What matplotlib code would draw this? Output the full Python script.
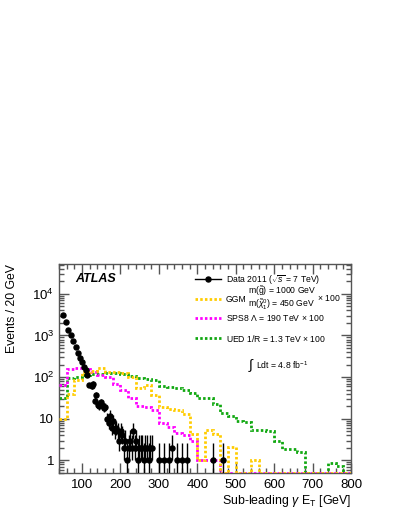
import numpy as np
import matplotlib
matplotlib.use("Agg")
import matplotlib.pyplot as plt
from matplotlib.ticker import FixedLocator, FixedFormatter, LogLocator, NullFormatter, MultipleLocator

plt.rcParams['font.family'] = ['Liberation Sans', 'DejaVu Sans']
plt.rcParams['mathtext.fontset'] = 'custom'
plt.rcParams['mathtext.rm'] = 'Liberation Sans'
plt.rcParams['mathtext.it'] = 'Liberation Sans:italic'
plt.rcParams['mathtext.bf'] = 'Liberation Sans:bold'

# ---------------- data ----------------
bin_edges = np.arange(40, 801, 20)

ggm = [10, 40, 85, 130, 140, 165, 130, 130, 125, 100, 55, 65, 38, 19, 17, 16, 13, 4.4, 1.0, 5.3,
       4.4, 0, 2.1, 0, 0, 1.0, 0, 0, 0, 0, 0, 0, 0, 0, 0, 0, 0, 0]
sps8 = [64, 160, 170, 160, 135, 110, 100, 68, 48, 31, 20, 19, 16, 8, 6.5, 4.5, 4, 3, 1.0, 1.0,
        1.0, 0, 0, 0, 0, 0, 0, 0, 0, 0, 0, 0, 0, 0, 0, 0, 0, 0]
ued = [31, 98, 100, 110, 120, 120, 125, 125, 120, 105, 95, 90, 85, 60, 58, 55, 50, 42, 32, 31,
       23, 14, 12, 9, 8.3, 5.5, 5.3, 5, 3, 1.9, 1.9, 1.6, 0, 0, 0, 0.85, 0.75, 0]

data_x = [51, 57, 64, 70, 77, 83, 89, 95, 101, 106, 110, 114, 119, 125, 129, 133, 137, 141, 145,
          149, 153, 157, 161, 165, 169, 173, 177, 181, 185, 189, 193, 197, 201, 205, 209, 213,
          217, 221, 225, 229, 233, 237, 241, 245, 249, 253, 257, 261, 265, 269, 273, 277,
          281, 301, 313, 325, 333, 348, 360, 373, 441, 467]
data_y = [3100, 2050, 1350, 1030, 750, 520, 390, 290, 230, 180, 145, 110, 65, 60, 70, 27, 38, 22,
          20, 25, 21, 18, 19, 10, 8, 12, 6, 9, 5, 6, 5, 3, 5, 4, 2, 3, 1,
          2, 3, 2, 5, 2, 3, 1, 2, 2, 2, 1, 2, 2, 1, 2,
          2, 1, 1, 1, 2, 1, 1, 1, 1, 1]

legend_labels = ["Data 2011 ($\\sqrt{s}$ = 7 TeV)", "GGM", "SPS8 $\\Lambda$ = 190 TeV $\\times$ 100",
                 "UED 1/R = 1.3 TeV $\\times$ 100"]

# ---------------- figure ----------------
W, H = 399, 516
fig = plt.figure(figsize=(W / 100, H / 100), dpi=100)
ax = fig.add_axes([59 / W, 1 - 473 / H, (351 - 59) / W, (473 - 264) / H])

ymin, ymax = 0.5, 5.2e4
c_ggm = '#FFCC00'
c_sps = '#FF00FF'
c_ued = '#11A811'
dots = (0, (0.9, 0.8))


def draw_hist(vals, color, z):
    v = np.array(vals, dtype=float)
    v = np.where(v > 0, v, ymin)
    ax.stairs(v, bin_edges, baseline=None, color=color, lw=2.0, ls=dots, zorder=z)


draw_hist(ued, c_ued, 2)
draw_hist(sps8, c_sps, 3)
draw_hist(ggm, c_ggm, 4)

dy = np.array(data_y, dtype=float)
up = 0.5 + np.sqrt(dy + 0.25)
dn = -0.5 + np.sqrt(dy + 0.25)
ax.errorbar(data_x, dy, yerr=[dn, up], fmt='o', color='black', ms=3.6, lw=1.0, capsize=0, zorder=6)

ax.set_yscale('log')
ax.set_xlim(40, 800)
ax.set_ylim(ymin, ymax)

ax.xaxis.set_major_locator(FixedLocator([100, 200, 300, 400, 500, 600, 700, 800]))
ax.xaxis.set_minor_locator(MultipleLocator(20))
ax.yaxis.set_major_locator(FixedLocator([1, 10, 100, 1000, 10000]))
ax.yaxis.set_major_formatter(FixedFormatter(['1', '10', '$10^{2}$', '$10^{3}$', '$10^{4}$']))
ax.yaxis.set_minor_locator(LogLocator(base=10, subs=np.arange(2, 10), numticks=20))
ax.yaxis.set_minor_formatter(NullFormatter())
ax.tick_params(which='both', direction='in', top=True, right=True, colors='#555555',
               labelcolor='black', labelsize=9.5, width=1.0)
ax.tick_params(which='major', length=7)
ax.tick_params(which='minor', length=3.5)
ax.tick_params(axis='x', pad=4)
for s in ax.spines.values():
    s.set_color('#555555')
    s.set_linewidth(1.0)

ax.set_xlabel('Sub-leading $\\gamma$ E$_{\\mathrm{T}}$ [GeV]', fontsize=8.9, ha='right', x=1.0)
ax.set_ylabel('Events / 20 GeV', fontsize=8.8, ha='right', y=1.0)
ax.xaxis.set_label_coords(1.0, -0.095)
ax.yaxis.set_label_coords(-0.14, 1.0)

# ATLAS label
fig.text(75 / W, 1 - 279 / H, 'ATLAS', fontsize=9, fontweight='bold', style='italic', va='center')

# legend (manual, ROOT-like)
def fx(p):
    return p / W


def fy(p):
    return 1 - p / H


lx0, lx1 = 195, 221
tx = 226
fs = 6.2
# data entry
fig.lines.append(plt.Line2D([fx(lx0), fx(lx1)], [fy(279.3)] * 2, color='black', lw=1.0, transform=fig.transFigure))
fig.lines.append(plt.Line2D([fx(208)], [fy(279.3)], color='black', marker='o', ms=3.6, transform=fig.transFigure))
fig.text(fx(tx), fy(279.3), legend_labels[0], fontsize=fs, va='center')
# GGM
fig.lines.append(plt.Line2D([fx(lx0), fx(lx1)], [fy(299.3)] * 2, color=c_ggm, lw=2.0, ls=dots, transform=fig.transFigure))
fig.text(fx(tx), fy(299.3), legend_labels[1], fontsize=fs, va='center')
fig.text(fx(248), fy(291.5), 'm($\\tilde{\\mathrm{g}}$) = 1000 GeV', fontsize=fs, va='center')
fig.text(fx(248), fy(304.5), 'm($\\tilde{\\chi}^{0}_{1}$) = 450 GeV', fontsize=fs, va='center')
fig.text(fx(317), fy(298), '$\\times$ 100', fontsize=fs, va='center')
# SPS8
fig.lines.append(plt.Line2D([fx(lx0), fx(lx1)], [fy(318.3)] * 2, color=c_sps, lw=2.0, ls=dots, transform=fig.transFigure))
fig.text(fx(tx), fy(318.3), legend_labels[2], fontsize=fs, va='center')
# UED
fig.lines.append(plt.Line2D([fx(lx0), fx(lx1)], [fy(338.3)] * 2, color=c_ued, lw=2.0, ls=dots, transform=fig.transFigure))
fig.text(fx(tx), fy(338.3), legend_labels[3], fontsize=fs, va='center')
# luminosity
fig.text(fx(248), fy(366), '$\\int$', fontsize=10, va='center')
fig.text(fx(256), fy(365), 'Ldt = 4.8 fb$^{-1}$', fontsize=fs, va='center')

fig.savefig('out.png', dpi=100)
